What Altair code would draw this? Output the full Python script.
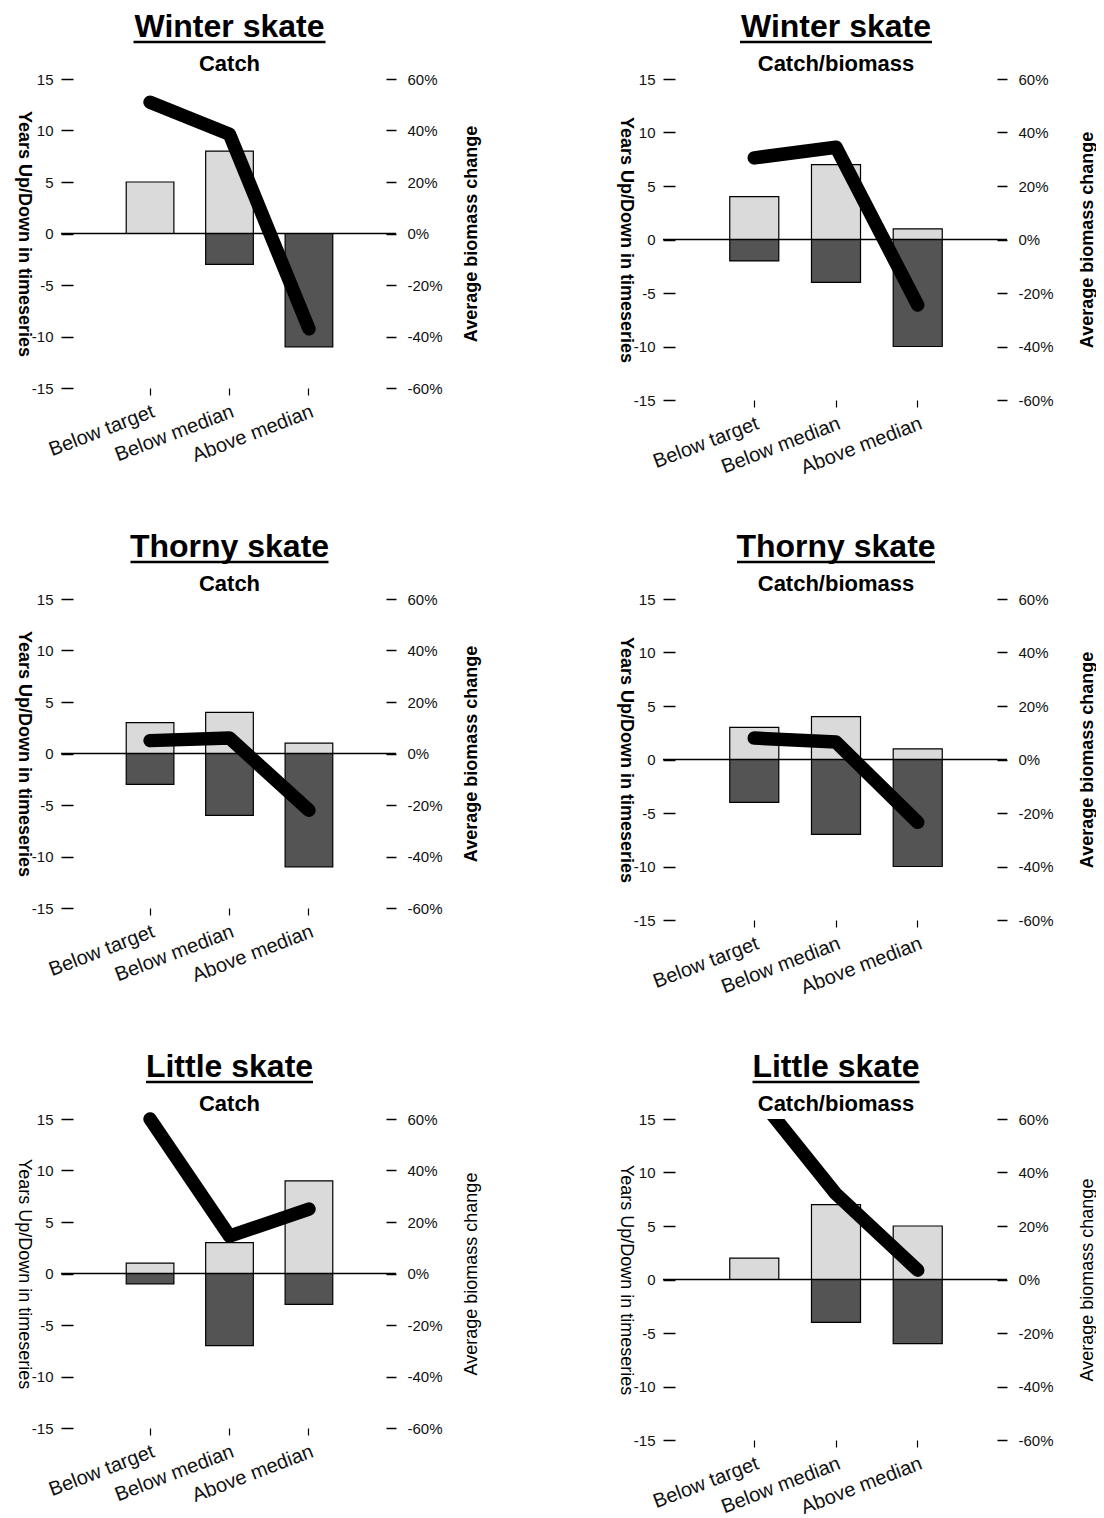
import altair as alt
import pandas as pd

categories = ["Below target", "Below median", "Above median"]

titles = ["Winter skate", "Winter skate", "Thorny skate", "Thorny skate", "Little skate", "Little skate"]
subtitles = ["Catch", "Catch/biomass", "Catch", "Catch/biomass", "Catch", "Catch/biomass"]

# years up (light bars) and years down (dark bars) per panel
years_up = [[5, 8, 0], [4, 7, 1], [3, 4, 1], [3, 4, 1], [1, 3, 9], [2, 7, 5]]
years_down = [[0, -3, -11], [-2, -4, -10], [-3, -6, -11], [-4, -7, -10], [-1, -7, -3], [0, -4, -6]]

# average biomass change (%) per panel
biomass_change = [
    [51, 38.5, -37],
    [30.5, 34.5, -24.5],
    [5, 6, -22],
    [8, 6.5, -23.5],
    [60, 14.5, 25],
    [70, 32, 3.5],
]

years_ticks = [-15, -10, -5, 0, 5, 10, 15]
pct_ticks = [-60, -40, -20, 0, 20, 40, 60]

FONT = "Liberation Sans"
underline_px = {"Winter skate": 192, "Thorny skate": 198, "Little skate": 167}


def panel(i):
    col = i % 2
    row = i // 2
    w = 313 if col == 0 else 322
    h = 309 if col == 0 else 321
    right_title_x = 85 if col == 0 else 90
    title_weight = "bold" if row < 2 else "normal"

    bar_rows = []
    for j, c in enumerate(categories):
        if years_up[i][j] != 0:
            bar_rows.append({"category": c, "dir": "up", "value": years_up[i][j]})
        if years_down[i][j] != 0:
            bar_rows.append({"category": c, "dir": "down", "value": years_down[i][j]})
    bars_df = pd.DataFrame(bar_rows)
    line_df = pd.DataFrame({"category": categories, "pct": biomass_change[i]})
    head_df = pd.DataFrame({"t": [titles[i]], "s": [subtitles[i]]})

    x_enc = alt.X(
        "category:N",
        sort=categories,
        scale=alt.Scale(domain=categories, paddingInner=0.4, paddingOuter=0.67),
        axis=alt.Axis(
            title=None, domain=False, ticks=True, tickSize=7, tickColor="black",
            tickWidth=1.2, labelAngle=339, labelAlign="right", labelBaseline="top",
            labelFontSize=20, labelPadding=6, labelColor="#111", labelFont=FONT,
        ),
    )
    y_scale = alt.Scale(domain=[-15, 15], nice=False, zero=False)

    bars = alt.Chart(bars_df).mark_bar(stroke="black", strokeWidth=1.2).encode(
        x=x_enc,
        y=alt.Y(
            "value:Q",
            scale=y_scale,
            axis=alt.Axis(
                orient="left",
                title="Years Up/Down in timeseries", values=years_ticks,
                labelExpr="'' + datum.value",
                domain=False, grid=False, tickSize=12, tickColor="black", tickWidth=1.5,
                labelFontSize=15, labelPadding=8, labelColor="#111", labelFont=FONT,
                titleFontSize=18, titleFontWeight=title_weight, titleFont=FONT,
                titleAngle=90, titleX=-50, titleY=h / 2, titleAlign="center",
                titleBaseline="middle", titleColor="black",
            ),
        ),
        color=alt.Color(
            "dir:N",
            scale=alt.Scale(domain=["up", "down"], range=["#dadada", "#545454"]),
            legend=None,
        ),
    )

    zero = alt.Chart(pd.DataFrame({"value": [0]})).mark_rule(
        color="black", strokeWidth=1.5
    ).encode(
        y=alt.Y("value:Q", scale=y_scale, axis=None),
        x=alt.value(-12),
        x2=alt.value(w + 10),
    )

    clip_line = any(abs(v) > 60 for v in biomass_change[i])
    line = alt.Chart(line_df).mark_line(
        color="black", strokeWidth=13.5, strokeCap="round", strokeJoin="round",
        clip=clip_line,
    ).encode(
        x=x_enc,
        y=alt.Y(
            "pct:Q",
            scale=alt.Scale(domain=[-60, 60], nice=False, zero=False),
            axis=alt.Axis(
                orient="right", title="Average biomass change", values=pct_ticks,
                labelExpr="datum.value + '%'", domain=False, grid=False, tickSize=10,
                tickColor="black", tickWidth=1.5, labelFontSize=15, labelPadding=11,
                labelColor="#111", labelFont=FONT, titleFontSize=18,
                titleFontWeight=title_weight, titleFont=FONT, titleAngle=270,
                titleX=right_title_x, titleY=h / 2, titleAlign="center",
                titleBaseline="middle", titleColor="black",
            ),
        ),
    )

    uw = underline_px[titles[i]]
    underline = alt.Chart(head_df).mark_rule(color="black", strokeWidth=2.5).encode(
        x=alt.value(w / 2 - uw / 2),
        x2=alt.value(w / 2 + uw / 2),
        y=alt.value(-37),
    )
    title_txt = alt.Chart(head_df).mark_text(
        font=FONT, fontSize=32, fontWeight="bold", color="black",
        align="center", baseline="alphabetic",
    ).encode(text="t:N", x=alt.value(w / 2), y=alt.value(-42))
    sub_txt = alt.Chart(head_df).mark_text(
        font=FONT, fontSize=22, fontWeight="bold", color="black",
        align="center", baseline="alphabetic",
    ).encode(text="s:N", x=alt.value(w / 2), y=alt.value(-8))

    return alt.layer(bars, zero, line, underline, title_txt, sub_txt).resolve_scale(
        y="independent"
    ).properties(width=w, height=h)


panels = [panel(i) for i in range(6)]

chart = alt.concat(
    *panels, columns=2, spacing={"row": 199, "column": 289}, bounds="flush"
).properties(
    padding={"left": 6, "top": 3, "right": 0, "bottom": 0},
    background="white",
).configure_view(stroke=None)

chart.save("out.html", embed_options={"renderer": "svg", "actions": False})
